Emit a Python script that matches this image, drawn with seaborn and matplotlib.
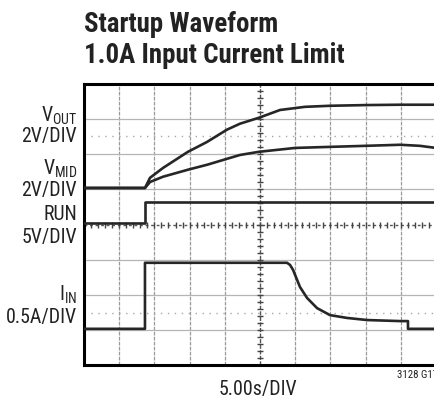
import matplotlib
matplotlib.use("Agg")
import matplotlib.pyplot as plt
import seaborn as sns
import pandas as pd

# ---- data (time in s, amplitude in scope divisions) ----
t_vout = [0, 8.66, 9.38, 11.22, 14.77, 17.47, 20.31, 22.16, 24.86, 27.84, 31.39, 34.94, 40.06, 44.89, 50]
v_vout = [5.04, 5.04, 5.33, 5.61, 6.07, 6.35, 6.70, 6.87, 7.04, 7.26, 7.35, 7.38, 7.40, 7.41, 7.41]

t_vmid = [0, 8.66, 9.38, 11.22, 14.77, 17.47, 20.31, 22.16, 24.86, 30.0, 34.94, 40.06, 44.89, 47.7, 50]
v_vmid = [5.04, 5.04, 5.21, 5.36, 5.56, 5.70, 5.87, 5.98, 6.07, 6.18, 6.21, 6.24, 6.27, 6.24, 6.18]

t_run = [0, 8.66, 8.66, 50]
v_run = [4.03, 4.03, 4.64, 4.64]

t_iin = [0, 8.66, 8.66, 28.84, 29.26, 29.69, 30.68, 31.68, 33.10, 34.94, 37.36, 40.20, 44.89, 46.02, 46.02, 50]
v_iin = [1.03, 1.03, 2.91, 2.91, 2.85, 2.71, 2.22, 1.91, 1.62, 1.42, 1.34, 1.28, 1.25, 1.25, 1.03, 1.03]

title_lines = ["Startup Waveform", "1.0A Input Current Limit"]
x_label = "5.00s/DIV"
note = "3128 G17"

sns.set_style("white")
FONT = ["Roboto Condensed", "Liberation Sans", "DejaVu Sans"]
plt.rcParams["font.family"] = FONT
plt.rcParams["mathtext.fontset"] = "custom"
plt.rcParams["mathtext.rm"] = "Roboto Condensed"
plt.rcParams["mathtext.it"] = "Roboto Condensed"

W, H = 435, 401
fig = plt.figure(figsize=(W / 100, H / 100), dpi=100)
ax = fig.add_axes([84 / W, 36 / H, 352 / W, 281 / H])
ax.set_xlim(0, 50)
ax.set_ylim(0, 8)

grid_c = "#9a9a9a"
for gx in range(5, 50, 5):
    if gx == 25:
        continue
    ax.axvline(gx, color=grid_c, lw=0.9, ls=(0, (3, 1)), zorder=1)
for gy in range(1, 8):
    if gy == 4:
        continue
    ax.axhline(gy, color="#b5b5b5", lw=0.9, zorder=1)
# center cross lines with minor ticks
ax.axvline(25, color="#555555", lw=1.0, ls=(0, (3, 1)), zorder=1)
ax.axhline(4, color="#555555", lw=1.0, ls=(0, (2, 2)), zorder=1)
tick_y = [i * 0.2 for i in range(1, 40)]
ax.plot([25] * len(tick_y), tick_y, ls="none", marker="_", ms=4, mew=1.0, color="#444444", zorder=1)
tick_x = [i * 1.0 for i in range(1, 50)]
ax.plot(tick_x, [4] * len(tick_x), ls="none", marker="|", ms=4, mew=1.0, color="#444444", zorder=1)
# ground marker dotted lines
for gy in (6.52, 1.48):
    ax.axhline(gy, color="#a8a8a8", lw=1.0, ls=(0, (1, 4)), zorder=1)

trace_c = "#262626"
for tt, vv in ((t_vout, v_vout), (t_vmid, v_vmid), (t_run, v_run), (t_iin, v_iin)):
    df = pd.DataFrame({"t": tt, "v": vv})
    sns.lineplot(data=df, x="t", y="v", ax=ax, color=trace_c, lw=1.9, sort=False,
                 estimator=None, zorder=3)

ax.set_xticks([])
ax.set_yticks([])
ax.set_xlabel("")
ax.set_ylabel("")
for s in ("left", "top", "bottom"):
    ax.spines[s].set_visible(True)
    ax.spines[s].set_color("black")
    ax.spines[s].set_linewidth(2.2)
ax.spines["right"].set_visible(False)

renderer = fig.canvas.get_renderer()

def fy(py):
    return 1 - py / H

def fit_size(txt, target_px, weight="normal", start=15.0):
    t = fig.text(0, 0, txt, fontsize=start, fontweight=weight)
    w = t.get_window_extent(renderer=renderer).width
    t.remove()
    return start * target_px / w

tcol = "#222222"
title_fs = fit_size(title_lines[1], 248, weight="bold", start=19) * 1.05
fig.text(84 / W, fy(32), title_lines[0], fontsize=title_fs, fontweight="bold", ha="left", va="baseline", color=tcol)
fig.text(84 / W, fy(63), title_lines[1], fontsize=title_fs, fontweight="bold", ha="left", va="baseline", color=tcol)

fs = (fit_size("2V/DIV", 52) + fit_size("0.5A/DIV", 65) + fit_size(x_label, 73)) / 3 * 1.08
lx = 77 / W
labels = [
    (r"$\mathrm{V}_{\mathrm{OUT}}$", 122),
    ("2V/DIV", 142),
    (r"$\mathrm{V}_{\mathrm{MID}}$", 175),
    ("2V/DIV", 196),
    ("RUN", 220),
    ("5V/DIV", 243),
    (r"$\mathrm{I}_{\mathrm{IN}}$", 301),
    ("0.5A/DIV", 323),
]
for txt, py in labels:
    fig.text(lx, fy(py), txt, fontsize=fs, ha="right", va="baseline", color=tcol)

fig.text(258 / W, fy(395), x_label, fontsize=fs, ha="center", va="baseline", color=tcol)
fig.text(397 / W, fy(378), note, fontsize=fs * 0.55, ha="left", va="baseline", color=tcol)

fig.savefig("out.png", dpi=100)
